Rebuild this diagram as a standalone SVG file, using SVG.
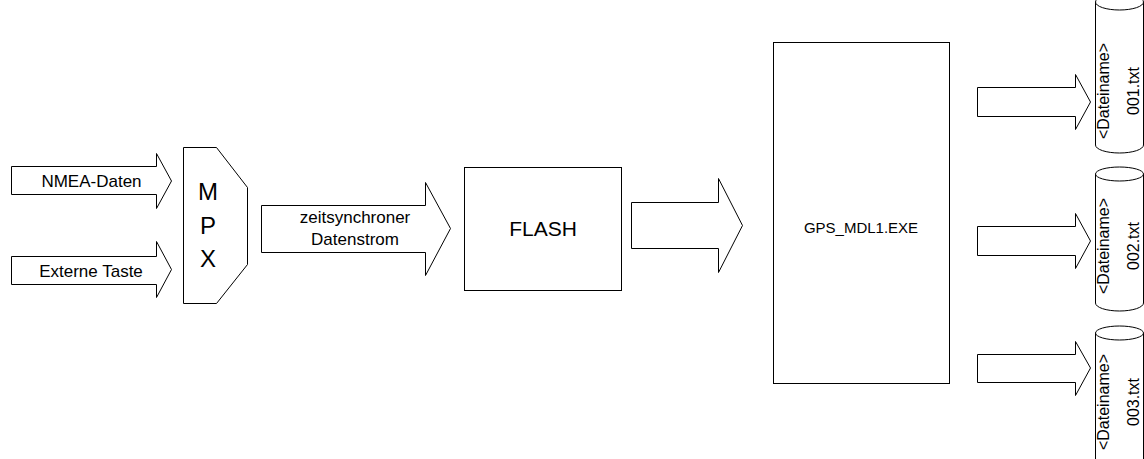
<svg xmlns="http://www.w3.org/2000/svg" width="1144" height="459" viewBox="0 0 1144 459">
  <style>
    .shape { fill: #fff; stroke: #000; stroke-width: 1; }
    .lbl { font-family: "Liberation Sans", Arial, sans-serif; fill: #000; text-anchor: middle; }
  </style>
  <rect width="1144" height="459" fill="#fff"/>

  <!-- block arrows (connectors) -->
  <g id="connectors">
    <path id="arrow-nmea" class="shape" d="M11.5,166.5 H156.5 V153.5 L171.5,181 L156.5,208.5 V194.5 H11.5 Z"/>
    <path id="arrow-taste" class="shape" d="M11.5,256.5 H156.5 V241.5 L171.5,269.5 L156.5,297.5 V284.5 H11.5 Z"/>
    <path id="arrow-stream" class="shape" d="M261.5,205.5 H425.5 V182.5 L450.5,228.5 L425.5,275.5 V252.5 H261.5 Z"/>
    <path id="arrow-flash" class="shape" d="M631.5,202.5 H718.5 V178.5 L742.5,225.5 L718.5,272.5 V248.5 H631.5 Z"/>
    <path id="arrow-out1" class="shape" d="M977.5,87.5 H1075.5 V74.5 L1090.5,102 L1075.5,129.5 V116.5 H977.5 Z"/>
    <path id="arrow-out2" class="shape" d="M977.5,226.5 H1075.5 V213.5 L1090.5,241 L1075.5,268.5 V255.5 H977.5 Z"/>
    <path id="arrow-out3" class="shape" d="M977.5,354.5 H1075.5 V341.5 L1090.5,368 L1075.5,395.5 V382.5 H977.5 Z"/>
    <text class="lbl" x="91.5" y="187" font-size="17">NMEA-Daten</text>
    <text class="lbl" x="91" y="277" font-size="17">Externe Taste</text>
    <text class="lbl" x="355" y="223" font-size="17">zeitsynchroner</text>
    <text class="lbl" x="355" y="245" font-size="17">Datenstrom</text>
  </g>

  <!-- multiplexer -->
  <g id="mpx">
    <polygon class="shape" points="183.5,147.5 216.5,147.5 247.5,187.5 247.5,264.5 216.5,303.5 183.5,303.5"/>
    <text class="lbl" x="208" y="200" font-size="24">M</text>
    <text class="lbl" x="208" y="234" font-size="24">P</text>
    <text class="lbl" x="208" y="267" font-size="24">X</text>
  </g>

  <!-- flash memory -->
  <g id="flash">
    <rect class="shape" x="464.5" y="167.5" width="157" height="123"/>
    <text class="lbl" x="543" y="236" font-size="21">FLASH</text>
  </g>

  <!-- converter program -->
  <g id="gps-mdl1">
    <rect class="shape" x="773.5" y="42.5" width="176" height="341"/>
    <text class="lbl" x="861" y="233" font-size="15">GPS_MDL1.EXE</text>
  </g>

  <!-- output files -->
  <g id="file-001">
    <path class="shape" d="M1095.5,2 V145 A24,8 0 0 0 1143.5,145 V2"/>
    <ellipse class="shape" cx="1119.5" cy="2" rx="24" ry="8"/>
    <g transform="translate(1119,91) rotate(-90)">
      <text class="lbl" x="0" y="-10" font-size="16">&lt;Dateiname&gt;</text>
      <text class="lbl" x="0" y="20" font-size="16">001.txt</text>
    </g>
  </g>
  <g id="file-002">
    <path class="shape" d="M1095.5,174 V303 A24,8 0 0 0 1143.5,303 V174"/>
    <ellipse class="shape" cx="1119.5" cy="174" rx="24" ry="7"/>
    <g transform="translate(1119,246) rotate(-90)">
      <text class="lbl" x="0" y="-10" font-size="16">&lt;Dateiname&gt;</text>
      <text class="lbl" x="0" y="20" font-size="16">002.txt</text>
    </g>
  </g>
  <g id="file-003">
    <path class="shape" d="M1095.5,333 V463 A24,8 0 0 0 1143.5,463 V333"/>
    <ellipse class="shape" cx="1119.5" cy="333" rx="24" ry="7"/>
    <g transform="translate(1119,402) rotate(-90)">
      <text class="lbl" x="0" y="-10" font-size="16">&lt;Dateiname&gt;</text>
      <text class="lbl" x="0" y="20" font-size="16">003.txt</text>
    </g>
  </g>
</svg>
